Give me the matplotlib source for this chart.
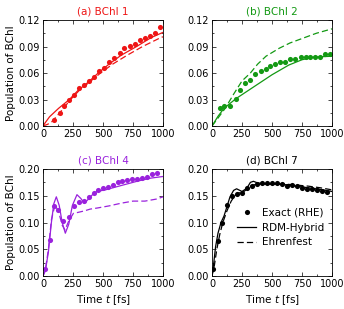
import matplotlib
matplotlib.use("Agg")
import matplotlib.pyplot as plt
from matplotlib.ticker import AutoMinorLocator

plt.rcParams['font.family'] = ['DejaVu Sans']
plt.rcParams['font.size'] = 7
plt.rcParams['mathtext.fontset'] = 'dejavusans'

# ---- data ----
titles = ["(a) BChl 1", "(b) BChl 2", "(c) BChl 4", "(d) BChl 7"]
colors = ["#ee1515", "#139913", "#9a22dd", "#000000"]

# (a)
a_dot_t = [92, 139, 175, 214, 256, 297, 339, 381, 425, 467, 508, 550, 594, 639, 678, 722, 764, 806, 847, 889, 933, 978]
a_dot_y = [0.007, 0.015, 0.023, 0.030, 0.035, 0.043, 0.046, 0.051, 0.056, 0.062, 0.066, 0.072, 0.077, 0.083, 0.088, 0.091, 0.093, 0.097, 0.100, 0.102, 0.105, 0.112]
a_sol_t = [0, 20, 55, 130, 220, 290, 380, 460, 550, 650, 780, 900, 1000]
a_sol_y = [0.0, 0.004, 0.0105, 0.020, 0.030, 0.040, 0.050, 0.060, 0.070, 0.080, 0.090, 0.100, 0.106]
a_das_t = [0, 40, 75, 140, 230, 300, 390, 480, 580, 700, 830, 980, 1000]
a_das_y = [0.0, 0.002, 0.005, 0.015, 0.030, 0.040, 0.050, 0.060, 0.070, 0.080, 0.090, 0.100, 0.101]

# (b)
b_dot_t = [64, 102, 146, 196, 235, 279, 318, 362, 406, 448, 483, 528, 569, 610, 649, 693, 738, 782, 820, 862, 903, 945, 986]
b_dot_y = [0.020, 0.023, 0.023, 0.031, 0.041, 0.049, 0.052, 0.059, 0.062, 0.065, 0.068, 0.070, 0.073, 0.073, 0.076, 0.076, 0.078, 0.078, 0.078, 0.078, 0.078, 0.081, 0.081]
b_sol_t = [0, 50, 100, 200, 300, 400, 500, 640, 750, 850, 1000]
b_sol_y = [0.0, 0.011, 0.020, 0.031, 0.040, 0.049, 0.058, 0.069, 0.075, 0.078, 0.079]
b_das_t = [0, 50, 110, 180, 250, 320, 380, 450, 560, 650, 750, 870, 1000]
b_das_y = [0.0, 0.009, 0.020, 0.036, 0.051, 0.060, 0.070, 0.079, 0.088, 0.094, 0.099, 0.105, 0.110]

# (c)
c_dot_t = [19, 56, 92, 128, 164, 217, 256, 297, 339, 383, 425, 461, 503, 542, 583, 622, 661, 703, 742, 781, 825, 864, 906, 947]
c_dot_y = [0.013, 0.068, 0.131, 0.124, 0.102, 0.111, 0.131, 0.139, 0.141, 0.148, 0.156, 0.161, 0.164, 0.167, 0.170, 0.175, 0.178, 0.179, 0.181, 0.182, 0.184, 0.185, 0.191, 0.192]
c_sol_t = [0, 20, 45, 70, 90, 111, 135, 160, 186, 215, 245, 283, 315, 344, 380, 420, 450, 520, 600, 700, 800, 900, 1000]
c_sol_y = [0.0, 0.010, 0.045, 0.100, 0.135, 0.148, 0.132, 0.100, 0.080, 0.097, 0.132, 0.152, 0.145, 0.136, 0.144, 0.154, 0.158, 0.161, 0.166, 0.172, 0.178, 0.183, 0.186]
c_das_t = [0, 20, 45, 70, 100, 130, 160, 183, 215, 253, 294, 350, 392, 450, 550, 650, 750, 850, 950, 1000]
c_das_y = [0.0, 0.012, 0.050, 0.105, 0.133, 0.120, 0.095, 0.086, 0.103, 0.117, 0.119, 0.122, 0.125, 0.127, 0.131, 0.136, 0.140, 0.140, 0.144, 0.148]

# (d)
d_dot_t = [11, 47, 83, 128, 167, 208, 247, 289, 331, 372, 414, 456, 497, 539, 581, 628, 667, 708, 750, 794, 836, 875, 917, 961]
d_dot_y = [0.014, 0.066, 0.100, 0.132, 0.150, 0.153, 0.155, 0.164, 0.169, 0.172, 0.173, 0.173, 0.173, 0.173, 0.172, 0.168, 0.170, 0.169, 0.164, 0.163, 0.162, 0.160, 0.159, 0.157]
d_sol_t = [0, 15, 30, 50, 75, 100, 125, 150, 180, 205, 250, 290, 320, 345, 380, 450, 500, 600, 700, 800, 900, 1000]
d_sol_y = [0.0, 0.025, 0.055, 0.080, 0.100, 0.112, 0.130, 0.148, 0.160, 0.163, 0.158, 0.164, 0.175, 0.177, 0.174, 0.172, 0.172, 0.171, 0.168, 0.165, 0.162, 0.158]
d_das_t = [0, 20, 40, 65, 90, 125, 160, 190, 220, 260, 290, 320, 360, 400, 500, 600, 700, 800, 900, 1000]
d_das_y = [0.0, 0.020, 0.050, 0.078, 0.100, 0.122, 0.140, 0.150, 0.155, 0.157, 0.162, 0.168, 0.171, 0.172, 0.172, 0.172, 0.170, 0.168, 0.165, 0.161]

panels = [
    (a_dot_t, a_dot_y, a_sol_t, a_sol_y, a_das_t, a_das_y),
    (b_dot_t, b_dot_y, b_sol_t, b_sol_y, b_das_t, b_das_y),
    (c_dot_t, c_dot_y, c_sol_t, c_sol_y, c_das_t, c_das_y),
    (d_dot_t, d_dot_y, d_sol_t, d_sol_y, d_das_t, d_das_y),
]
ylims = [(0, 0.12), (0, 0.12), (0, 0.20), (0, 0.20)]
yticks = [[0, 0.03, 0.06, 0.09, 0.12], [0, 0.03, 0.06, 0.09, 0.12],
          [0, 0.05, 0.10, 0.15, 0.20], [0, 0.05, 0.10, 0.15, 0.20]]
xticks = [0, 250, 500, 750, 1000]

fig = plt.figure(figsize=(3.44, 3.09), dpi=100)
W, H = 344, 309
boxes = [(43, 20, 163, 126), (212, 20, 332, 126), (43, 169, 163, 276), (212, 169, 332, 276)]

for i, (box, data) in enumerate(zip(boxes, panels)):
    x0, y0, x1, y1 = box
    ax = fig.add_axes([x0 / W, 1 - y1 / H, (x1 - x0) / W, (y1 - y0) / H])
    dt, dy, st, sy, et, ey = data
    c = colors[i]
    ax.plot(dt, dy, 'o', color=c, ms=3.7, mec='none', label='Exact (RHE)')
    ax.plot(st, sy, '-', color=c, lw=0.9, label='RDM-Hybrid')
    ax.plot(et, ey, '--', color=c, lw=0.9, dashes=(5, 2.5), label='Ehrenfest')
    ax.set_xlim(0, 1000)
    ax.set_ylim(*ylims[i])
    ax.set_xticks(xticks)
    ax.set_yticks(yticks[i])
    ax.set_yticklabels(["%.2f" % v for v in yticks[i]])
    ax.xaxis.set_minor_locator(AutoMinorLocator(2))
    ax.yaxis.set_minor_locator(AutoMinorLocator(2))
    ax.tick_params(which='both', direction='in', top=True, right=True, width=0.5, labelsize=7, pad=2)
    ax.tick_params(which='major', length=3)
    ax.tick_params(which='minor', length=1.5)
    for s in ax.spines.values():
        s.set_linewidth(0.6)
    ax.set_title(titles[i], color=c, fontsize=7.5, pad=4)
    if i % 2 == 0:
        ax.set_ylabel("Population of BChl", fontsize=7.5, labelpad=2)
    if i >= 2:
        ax.set_xlabel("Time $t$ [fs]", fontsize=7.5, labelpad=3)
    if i == 3:
        ax.legend(loc='lower right', frameon=False, fontsize=7.5, handlelength=1.8,
                  handletextpad=0.6, labelspacing=0.45, borderaxespad=0.3,
                  bbox_to_anchor=(1.0, 0.2))

fig.savefig("out.png", dpi=100)
